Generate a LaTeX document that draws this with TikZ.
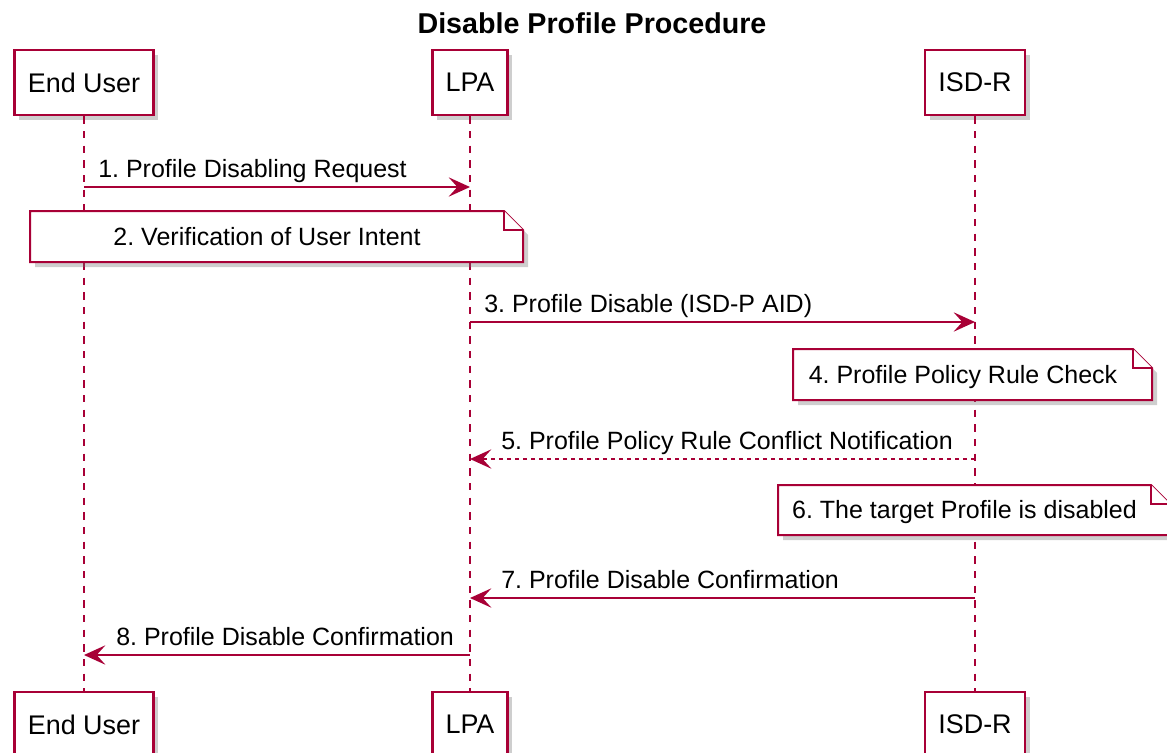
\documentclass[tikz,border=0pt]{standalone}
\usepackage{fontspec}
\setmainfont{Liberation Sans}
\usetikzlibrary{arrows.meta,shadows,calc}
\definecolor{umlred}{HTML}{A80036}
\frenchspacing
\tikzset{
	part/.style={draw=umlred, line width=2pt, fill=white, inner xsep=10pt, minimum height=48.75pt,
		font=\fontsize{20.2}{24}\selectfont,
		drop shadow={shadow xshift=3.5pt, shadow yshift=-3.5pt, fill=black!55, opacity=0.35}},
	lifeline/.style={umlred, line width=1.5pt, dash pattern=on 5.5pt off 5.5pt},
	call/.style={umlred, line width=1.5pt, -{Stealth[length=16pt, width=14.5pt, inset=6.5pt]}},
	reply/.style={call, dash pattern=on 3pt off 3pt},
	notebox/.style={draw=umlred, line width=1.5pt, fill=white, line join=miter},
	msg/.style={font=\fontsize{18.75}{22}\selectfont, inner sep=0pt, text height=13.4pt, text depth=0pt},
}
\def\umlnote(#1,#2)(#3,#4)#5#6{%
	\fill[black!55, opacity=0.35] (#1+5,#2+5) -- (#3+5-19,#2+5) -- (#3+5,#2+5+19) -- (#3+5,#4+5) -- (#1+5,#4+5) -- cycle;
	\draw[notebox] (#1,#2) -- (#3-19,#2) -- (#3,#2+19) -- (#3,#4) -- (#1,#4) -- cycle;
	\draw[notebox] (#3-19,#2) -- (#3-19,#2+19) -- (#3,#2+19);
	\node[msg] (#5) at ({(#1+#3-19)/2},{(#2+#4)/2}) {#6};
}

\begin{document}
\begin{tikzpicture}[x=0.75pt, y=-0.75pt]
	%%%%% START %%%%%
	\useasboundingbox (0,0) rectangle (1167,753);

	\node[font=\bfseries\fontsize{21.5}{26}\selectfont, anchor=base] (title) at (592,33) {Disable Profile Procedure};

	% participants, top and bottom
	\node[part] (eu) at (84,82.5) {End User};
	\node[part] (lpa) at (470,82.5) {LPA};
	\node[part] (isdr) at (975,82.5) {ISD-R};
	\node[part] (eub) at (84,724.5) {End User};
	\node[part] (lpab) at (470,724.5) {LPA};
	\node[part] (isdrb) at (975,724.5) {ISD-R};

	\draw[lifeline] (eu.south) -- (eub.north);
	\draw[lifeline] (lpa.south) -- (lpab.north);
	\draw[lifeline] (isdr.south) -- (isdrb.north);

	% message rows
	\coordinate (m1) at (0,187);
	\coordinate (m3) at (0,322);
	\coordinate (m5) at (0,459);
	\coordinate (m7) at (0,598);
	\coordinate (m8) at (0,655);

	\draw[call] (eu |- m1) -- (lpa |- m1);
	\node[msg, anchor=base west] (t1) at ($(eu |- m1)+(14,-10)$) {1. Profile Disabling Request};

	\umlnote(30,211)(523,262){n2}{2. Verification of User Intent}

	\draw[call] (lpa |- m3) -- (isdr |- m3);
	\node[msg, anchor=base west] (t3) at ($(lpa |- m3)+(14,-10)$) {3. Profile Disable (ISD-P AID)};

	\umlnote(793,349)(1152,400){n4}{4. Profile Policy Rule Check}

	\draw[reply] (isdr |- m5) -- (lpa |- m5);
	\node[msg, anchor=base west] (t5) at ($(lpa |- m5)+(31,-10)$) {5. Profile Policy Rule Conflict Notification};

	\umlnote(778,485)(1170,535){n6}{6. The target Profile is disabled}

	\draw[call] (isdr |- m7) -- (lpa |- m7);
	\node[msg, anchor=base west] (t7) at ($(lpa |- m7)+(31,-10)$) {7. Profile Disable Confirmation};

	\draw[call] (lpa |- m8) -- (eu |- m8);
	\node[msg, anchor=base west] (t8) at ($(eu |- m8)+(32,-10)$) {8. Profile Disable Confirmation};
	%%%%% END %%%%%
\end{tikzpicture}
\end{document}
